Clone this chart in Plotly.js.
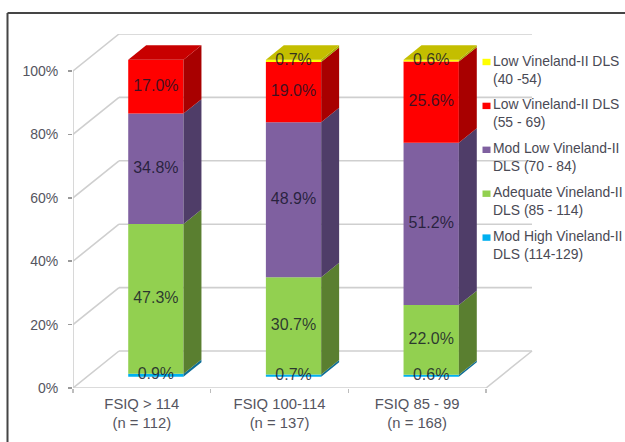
<!DOCTYPE html>
<html><head><meta charset="utf-8">
<script src="https://cdn.plot.ly/plotly-3.0.1.min.js"></script>
<style>html,body{margin:0;padding:0;background:#fff}</style>
</head><body><div id="chart" style="width:625px;height:442px"></div>
<script>
// Data
const categories = ["FSIQ > 114<br>(n = 112)", "FSIQ 100-114<br>(n = 137)", "FSIQ 85 - 99<br>(n = 168)"];
const modHigh  = [0.9, 0.7, 0.6];
const adequate = [47.3, 30.7, 22.0];
const modLow   = [34.8, 48.9, 51.2];
const low55    = [17.0, 19.0, 25.6];
const low40    = [0, 0.7, 0.6];
const seriesNames = ["Mod High Vineland-II<br>DLS (114-129)", "Adequate Vineland-II<br>DLS (85 - 114)", "Mod Low Vineland-II<br>DLS (70 - 84)", "Low Vineland-II DLS<br>(55 - 69)", "Low Vineland-II DLS<br>(40 -54)"];
const frontColors = ["#00B0F0", "#92D050", "#7F60A0", "#FF0000", "#FFFF00"];
const sideColors  = ["#0F6E96", "#5A7F30", "#4F3D68", "#A80000", "#A8A800"];
const topColors   = ["#1388B8", "#70A040", "#65508A", "#C80000", "#C4BE00"];
const yTicks = [0, 20, 40, 60, 80, 100];
const series = [modHigh, adequate, modLow, low55, low40];

// Pseudo-3D geometry in axis units
const W = 625, H = 442, L = 73, R = 533, T = 34, B = 388;
const pxX = 137.67, pxY = 3.17;
const depthX = 46 / pxX, depthY = 37 / pxY;
const barW = 55.3 / pxX;
const near = 0.305, far = 0.695;
const xRange = [0, (R - L) / pxX], yRange = [0, (B - T) / pxY];

const traces = [];
const cum = categories.map(() => 0);
const bases = series.map(s => { const b = s.map((v, i) => cum[i]); s.forEach((v, i) => cum[i] += v); return b; });

// Front faces
series.forEach((s, k) => {
  traces.push({
    type: "bar", name: seriesNames[k].replace("<br>", " "), showlegend: false,
    x: categories.map((c, i) => i + 0.5 + near * depthX),
    y: s, base: bases[k].map(b => b + near * depthY),
    width: barW, marker: {color: frontColors[k], line: {width: 0}}, hoverinfo: "skip"
  });
});

// Side faces
series.forEach((s, k) => {
  const xs = [], ys = [];
  s.forEach((v, i) => {
    if (!v) return;
    const x0 = i + 0.5 + near * depthX + barW / 2, x1 = x0 + (far - near) * depthX;
    const y0 = bases[k][i] + near * depthY, y1 = y0 + v, d = (far - near) * depthY;
    xs.push(x0, x1, x1, x0, x0, null);
    ys.push(y0, y0 + d, y1 + d, y1, y0, null);
  });
  traces.push({type: "scatter", mode: "lines", x: xs, y: ys, fill: "toself", fillcolor: sideColors[k],
    line: {width: 0, color: sideColors[k]}, showlegend: false, hoverinfo: "skip"});
});

// Top faces
categories.forEach((c, i) => {
  let k = series.length - 1;
  while (!series[k][i]) k--;
  const xl = i + 0.5 + near * depthX - barW / 2, xr = xl + barW;
  const d = (far - near) * depthX, y = 100 + near * depthY, dy = (far - near) * depthY;
  traces.push({type: "scatter", mode: "lines", x: [xl, xr, xr + d, xl + d, xl], y: [y, y, y + dy, y + dy, y],
    fill: "toself", fillcolor: topColors[k], line: {width: 0, color: topColors[k]}, showlegend: false, hoverinfo: "skip"});
});

// Value labels
const lx = [], ly = [], lt = [];
series.forEach((s, k) => s.forEach((v, i) => {
  if (!v) return;
  lx.push(i + 0.5 + near * depthX);
  ly.push(bases[k][i] + v / 2 + near * depthY);
  lt.push(v.toFixed(1) + "%");
}));
traces.push({type: "scatter", mode: "text", x: lx, y: ly, text: lt, xaxis: "x2", textposition: "middle center",
  textfont: {family: "Liberation Sans, Arial, sans-serif", size: 16, color: "rgba(20,20,40,0.82)"},
  showlegend: false, hoverinfo: "skip", cliponaxis: false});

// Walls, floor, frame
const gridLine = {color: "#CFCFCF", width: 1.6};
const shapes = [];
const seg = (x0, y0, x1, y1, line) => shapes.push({type: "line", xref: "x", yref: "y", x0, y0, x1, y1, line, layer: "below"});
yTicks.forEach(v => {
  seg(0, v, depthX, v + depthY, gridLine);
  seg(depthX, v + depthY, 3 + depthX, v + depthY, gridLine);
});
seg(0, 0, 0, 100, gridLine);
seg(0, 0, 3, 0, gridLine);
seg(3, 0, 3 + depthX, depthY, gridLine);

const px = x => (x - L) / (R - L), py = y => (B - y) / (B - T);
const frame = {color: "#454545", width: 2};
shapes.push({type: "line", xref: "paper", yref: "paper", x0: px(7.5), x1: px(7.5), y0: py(13), y1: py(442), line: frame});
shapes.push({type: "line", xref: "paper", yref: "paper", x0: px(7.5), x1: px(625), y0: py(13), y1: py(13), line: frame});

// Key, top entry first
const annotations = [];
series.map((s, k) => k).reverse().forEach((k, n) => {
  const cy = 69.5 + 43.9 * n;
  annotations.push({xref: "paper", yref: "paper", x: px(492), y: py(cy), xanchor: "left", yanchor: "middle", align: "left",
    showarrow: false, text: seriesNames[k], borderpad: 0,
    font: {family: "Liberation Sans, Arial, sans-serif", size: 13.9, color: "#4A4A55"}});
  shapes.push({type: "rect", xref: "paper", yref: "paper", x0: px(482.5), x1: px(490.5), y0: py(cy - 7.5 + 3.2), y1: py(cy - 7.5 - 3.2),
    fillcolor: frontColors[k], line: {width: 0}});
});

const font = {family: "Liberation Sans, Arial, sans-serif", size: 14, color: "#555560"};
const catFont = {family: font.family, size: 14.8, color: font.color};
const layout = {
  width: W, height: H, autosize: false, paper_bgcolor: "#fff", plot_bgcolor: "rgba(0,0,0,0)",
  margin: {l: L, r: W - R, t: T, b: H - B, pad: 0}, barmode: "overlay", showlegend: false, font,
  xaxis: {range: xRange, tickmode: "array", tickvals: [0, 1, 2, 3], ticktext: ["", "", "", ""], ticks: "outside", ticklen: 4,
    tickcolor: "#BDBDBD", tickwidth: 1.5, showgrid: false, zeroline: false, showline: false, fixedrange: true},
  xaxis2: {range: xRange, overlaying: "x", anchor: "y", side: "bottom", tickmode: "array", tickvals: categories.map((c, i) => i + 0.5),
    ticktext: categories, ticks: "", showgrid: false, zeroline: false, showline: false, tickfont: catFont, ticklabelstandoff: 5, fixedrange: true},
  yaxis: {range: yRange, tickmode: "array", tickvals: yTicks, ticktext: yTicks.map(v => v + "%"), ticks: "outside", ticklen: 4,
    tickcolor: "#9A9A9A", tickwidth: 1.5, showgrid: false, zeroline: false, showline: false, tickfont: font, ticklabelstandoff: 7, fixedrange: true},
  shapes, annotations
};
Plotly.newPlot("chart", traces, layout, {displayModeBar: false, staticPlot: true});
</script></body></html>
